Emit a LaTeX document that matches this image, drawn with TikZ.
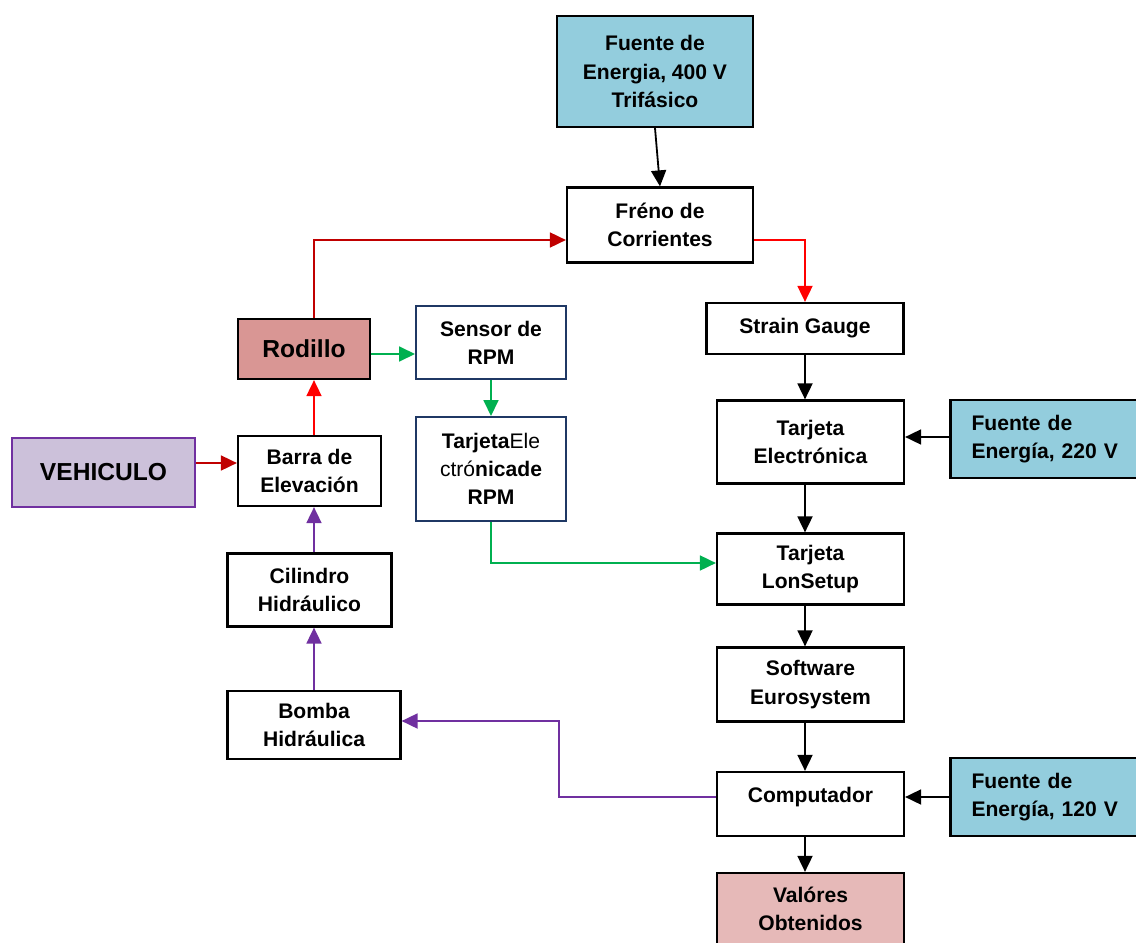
\documentclass[tikz,border=0pt]{standalone}
\usepackage{xcolor}
\usepackage{fontspec}
\setmainfont{Liberation Sans}
\usepackage{tikz}
\usetikzlibrary{calc}
\usetikzlibrary{arrows.meta}

\definecolor{azulfuente}{HTML}{93CDDD}
\definecolor{rosarodillo}{HTML}{D99694}
\definecolor{lilavehiculo}{HTML}{CCC1DA}
\definecolor{rosavalores}{HTML}{E6B9B8}
\definecolor{moradolinea}{HTML}{7030A0}
\definecolor{verdelinea}{HTML}{00B050}
\definecolor{rojolinea}{HTML}{FF0000}
\definecolor{rojooscuro}{HTML}{C00000}
\definecolor{azulborde}{HTML}{1F3864}

\tikzset{
  bloque/.style={draw=black, line width=0.045cm, fill=white, align=center, inner sep=0pt,
    font=\fontsize{12}{16}\selectfont\bfseries},
  bloquefuente/.style={bloque, fill=azulfuente},
  bloquelado/.style={bloquefuente, align=left, text width=2.97cm, inner xsep=0.42cm,
    minimum width=3.81cm, minimum height=1.56cm},
  bloquerpm/.style={bloque, draw=azulborde, line width=0.04cm},
  flecha/.style={line width=0.036cm, -{Triangle[length=0.32cm,width=0.30cm]}},
}

\begin{document}
\begin{tikzpicture}[x=0.02cm, y=-0.02cm]
        \useasboundingbox (0,0) rectangle (1136,943);
        {
        % Marking the supply blocks
        \node [bloquefuente, minimum width=3.92cm, minimum height=2.22cm] (f400) at (655,71.5) {Fuente de\\Energia, 400 V\\Trifásico};%
        \node [bloquelado] (f220) at (1045.75,439) {Fuente de\\Energía, 220 V};%
        \node [bloquelado] (f120) at (1045.75,797) {Fuente de\\Energía, 120 V};%

        % Marking the left column
        \node [bloque, fill=rosarodillo, minimum width=2.64cm, minimum height=1.20cm,
               font=\fontsize{14}{17}\selectfont\bfseries] (rodillo) at (304,349) {Rodillo};%
        \node [bloque, draw=moradolinea, fill=lilavehiculo, minimum width=3.66cm, minimum height=1.38cm,
               font=\fontsize{14}{17}\selectfont\bfseries] (vehiculo) at (103.5,472.5) {VEHICULO};%
        \node [bloque, minimum width=2.86cm, minimum height=1.40cm] (barra) at (309.5,471) {Barra de\\Elevación};%
        \node [bloque, minimum width=3.28cm, minimum height=1.46cm] (cilindro) at (309.5,590) {Cilindro\\Hidráulico};%
        \node [bloque, minimum width=3.46cm, minimum height=1.36cm] (bomba) at (314,725) {Bomba\\Hidráulica};%

        % Marking the rpm blocks
        \node [bloquerpm, minimum width=3.00cm, minimum height=1.46cm] (sensor) at (491,342.5) {Sensor de\\RPM};%
        \node [bloquerpm, minimum width=3.00cm, minimum height=2.08cm] (tarjrpm) at (491,469)
              {Tarjeta{\mdseries Ele}\\{\mdseries ctró}nicade\\RPM};%

        % Marking the right column
        \node [bloque, minimum width=3.72cm, minimum height=1.50cm] (freno) at (660,225) {Fréno de\\Corrientes};%
        \node [bloque, minimum width=3.94cm, minimum height=1.02cm] (strain) at (805,328.5) {Strain Gauge};%
        \node [bloque, minimum width=3.74cm, minimum height=1.66cm] (tarjelec) at (810.5,442) {Tarjeta\\Electrónica};%
        \node [bloque, minimum width=3.74cm, minimum height=1.42cm] (lonsetup) at (810.5,569) {Tarjeta\\LonSetup};%
        \node [bloque, minimum width=3.74cm, minimum height=1.48cm] (software) at (810.5,684.5) {Software\\Eurosystem};%
        \node [bloque, minimum width=3.74cm, minimum height=1.28cm, text depth=10.5pt] (computador) at (810.5,804) {Computador};%
        \node [bloque, fill=rosavalores, minimum width=3.74cm, minimum height=1.44cm] (valores) at (810.5,909) {Valóres\\Obtenidos};%

        % Drawing the black connectors
        \draw [flecha] (f400.south) -- (freno.north);%
        \draw [flecha] (strain.south) -- (strain.south |- tarjelec.north);%
        \draw [flecha] (strain.south |- tarjelec.south) -- (strain.south |- lonsetup.north);%
        \draw [flecha] (strain.south |- lonsetup.south) -- (strain.south |- software.north);%
        \draw [flecha] (strain.south |- software.south) -- (strain.south |- computador.north);%
        \draw [flecha] (strain.south |- computador.south) -- (strain.south |- valores.north);%
        \draw [flecha] ([yshift=0.04cm]f220.west) -- ([yshift=0.04cm]f220.west -| tarjelec.east);%
        \draw [flecha] (f120.west) -- (f120.west -| computador.east);%

        % Drawing the red connectors
        \draw [flecha, rojooscuro] ([xshift=0.20cm]rodillo.north) |- ([yshift=-0.30cm]freno.west);%
        \draw [flecha, rojolinea] ([yshift=-0.30cm]freno.east) -| (strain.north);%
        \draw [flecha, rojooscuro] ([yshift=0.19cm]vehiculo.east) -- ([yshift=0.19cm]vehiculo.east -| barra.west);%
        \draw [flecha, rojolinea] ([xshift=0.09cm]barra.north) -- ([xshift=0.09cm]barra.north |- rodillo.south);%

        % Drawing the green connectors
        \draw [flecha, verdelinea] ([yshift=-0.10cm]rodillo.east) -- ([yshift=-0.10cm]rodillo.east -| sensor.west);%
        \draw [flecha, verdelinea] (sensor.south) -- (tarjrpm.north);%
        \draw [flecha, verdelinea] (tarjrpm.south) |- ([yshift=0.12cm]lonsetup.west);%

        % Drawing the purple connectors
        \coordinate (quiebre) at (559,721);%
        \draw [flecha, moradolinea] ([xshift=0.09cm]cilindro.north) -- ([xshift=0.09cm]cilindro.north |- barra.south);%
        \draw [flecha, moradolinea] (bomba.north) -- (bomba.north |- cilindro.south);%
        \draw [flecha, moradolinea] ([yshift=0.14cm]computador.west) -| (quiebre) -- (quiebre -| bomba.east);%
        }
    \end{tikzpicture}
\end{document}
